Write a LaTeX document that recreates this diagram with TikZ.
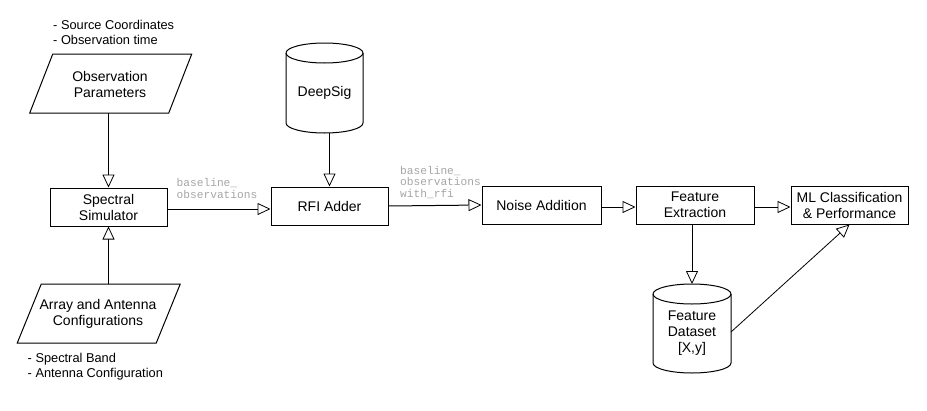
\documentclass[tikz,border=0pt]{standalone}
\usepackage{fontspec}
\setmainfont{Liberation Sans}
\setmonofont{Liberation Mono}
\usetikzlibrary{arrows.meta}
\definecolor{lblgray}{RGB}{165,165,165}
\begin{document}
\begin{tikzpicture}[x=1pt,y=-1pt,
  boxtxt/.style={font=\fontsize{14}{16}\selectfont, align=center, inner sep=0pt},
  box/.style={boxtxt, draw, line width=1pt, minimum width=117pt, minimum height=38pt},
  shapeonly/.style={inner sep=0pt, outer sep=0pt},
  outline/.style={line width=1pt},
  note/.style={font=\fontsize{12.8}{14.5}\selectfont, align=left, anchor=west, inner sep=0pt},
  edgelbl/.style={font=\ttfamily\fontsize{11.2}{11.5}\selectfont, text=lblgray, align=left, anchor=west, inner sep=0pt},
  conn/.style={line width=1pt, -{Triangle[open, length=13pt, width=12pt, line width=0.8pt]}}
]
\useasboundingbox (0,0) rectangle (927,410);

% annotations
\node[note] (srcnote) at (53,32.3) {- Source Coordinates\\- Observation time};
\node[note] (bandnote) at (27.5,366.8) {- Spectral Band\\- Antenna Configuration};

% Observation parameters (parallelogram)
\node[shapeonly, minimum width=139pt, minimum height=59pt] (obs) at (110.75,83.5) {};
\draw[outline] ([xshift=11.5pt]obs.north west) -- ([xshift=11.5pt]obs.north east)
  -- ([xshift=-11.5pt]obs.south east) -- ([xshift=-11.5pt]obs.south west) -- cycle;
\node[boxtxt] (obstext) at (110,84.5) {Observation\\Parameters};

% Array and antenna configurations (parallelogram)
\node[shapeonly, minimum width=139pt, minimum height=59pt] (arr) at (98.75,313.5) {};
\draw[outline] ([xshift=12pt]arr.north west) -- ([xshift=12pt]arr.north east)
  -- ([xshift=-12pt]arr.south east) -- ([xshift=-12pt]arr.south west) -- cycle;
\node[boxtxt] (arrtext) at (98,314) {Array and Antenna\\Configurations};

% Boxes
\node[box] (spec) at (108.5,207) {Spectral\\Simulator};
\node[box] (rfi) at (329.5,206) {RFI Adder};
\node[box, minimum width=119pt] (noise) at (541.5,205) {Noise Addition};
\node[box, minimum width=118pt] (fe) at (695,205) {Feature\\Extraction};
\node[box] (ml) at (849.5,205) {ML Classification\\\& Performance};

% DeepSig cylinder
\node[shapeonly, minimum width=77pt, minimum height=90pt] (ds) at (324.5,88) {};
\draw[outline, fill=white] ([yshift=-10pt]ds.north west) -- ([yshift=10pt]ds.south west)
  arc[start angle=180, end angle=360, x radius=38.5pt, y radius=10pt]
  -- ([yshift=-10pt]ds.north east)
  arc[start angle=0, end angle=180, x radius=38.5pt, y radius=10pt] -- cycle;
\draw[outline] ([yshift=-10pt]ds.north west)
  arc[start angle=180, end angle=360, x radius=38.5pt, y radius=10pt];
\node[boxtxt] (dstext) at (324.5,93) {DeepSig};

% Feature dataset cylinder
\node[shapeonly, minimum width=78pt, minimum height=89pt] (fd) at (692,328.5) {};
\draw[outline, fill=white] ([yshift=-10pt]fd.north west) -- ([yshift=10pt]fd.south west)
  arc[start angle=180, end angle=360, x radius=39pt, y radius=10pt]
  -- ([yshift=-10pt]fd.north east)
  arc[start angle=0, end angle=180, x radius=39pt, y radius=10pt] -- cycle;
\draw[outline] ([yshift=-10pt]fd.north west)
  arc[start angle=180, end angle=360, x radius=39pt, y radius=10pt];
\node[boxtxt] (fdtext) at (692,333) {Feature\\Dataset\\{[X,y]}};

% Connectors
\draw[conn] (spec.north |- obs.south) -- (spec.north);
\draw[conn] (spec.south |- arr.north) -- (spec.south);
\draw[conn] ([yshift=-2pt]spec.east) -- ([yshift=-2pt]spec.east -| rfi.west);
\draw[conn] (rfi.north |- ds.south) -- (rfi.north);
\draw[conn] (rfi.east) -- (noise.west);
\draw[conn] ([yshift=-2pt]noise.east) -- ([yshift=-2pt]noise.east -| fe.west);
\draw[conn] ([yshift=-2pt]fe.east) -- ([yshift=-2pt]fe.east -| ml.west);
\draw[conn] (fd.north |- fe.south) -- (fd.north);
\draw[line width=0.8pt, -{Triangle[open, length=13pt, width=12pt, line width=0.8pt]}] ([yshift=-3.5pt]fd.east) -- (ml.south);

% Edge labels
\node[edgelbl] (lbl1) at (176.5,188.5) {baseline\_\\observations};
\node[edgelbl] (lbl2) at (400,182.5) {baseline\_\\observations\\with\_rfi};
\end{tikzpicture}
\end{document}
